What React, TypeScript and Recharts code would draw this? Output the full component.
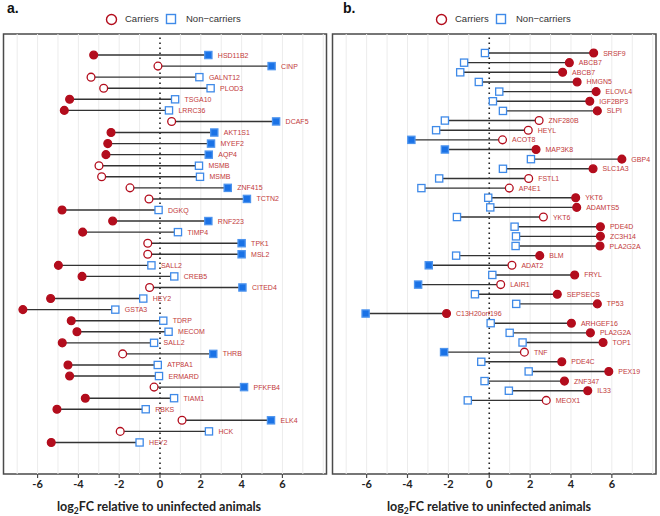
import React from 'react';
import { ScatterChart, Scatter, XAxis, YAxis, ReferenceLine, ReferenceArea } from 'recharts';

// ---------- Panel a ----------
const aGenes = ['HSD11B2','CINP','GALNT12','PLOD3','TSGA10','LRRC36','DCAF5','AKT1S1','MYEF2','AQP4','MSMB','MSMB','ZNF415','TCTN2','DGKQ','RNF223','TIMP4','TPK1','MSL2','SALL2','CREB5','CITED4','HEY2','GSTA3','TDRP','MECOM','SALL2','THRB','ATP8A1','ERMARD','PFKFB4','TIAM1','RBKS','ELK4','HCK','HEY2'];
const aCarriers = [-3.25,-0.1,-3.38,-2.76,-4.43,-4.69,0.57,-2.4,-2.56,-2.65,-2.99,-2.86,-1.47,-0.54,-4.8,-2.32,-3.79,-0.6,-0.6,-4.98,-3.82,-0.51,-5.36,-6.72,-4.35,-4.07,-4.79,-1.83,-4.51,-4.43,-0.29,-3.66,-5.05,1.08,-1.95,-5.33];
const aNonCarriers = [2.37,5.47,1.93,2.48,0.74,0.44,5.69,2.66,2.5,2.39,1.91,1.96,3.32,4.26,-0.07,2.37,0.88,4.0,4.0,-0.42,0.7,4.04,-0.82,-2.19,0.16,0.42,-0.29,2.61,-0.11,-0.05,4.12,0.69,-0.7,5.44,2.4,-1.0];
const aCarrierSig = [1,0,0,0,1,1,0,1,1,1,0,0,0,0,1,1,1,0,0,1,1,0,1,1,1,1,1,0,1,1,0,1,1,0,0,1];
const aNonCarrierSig = [1,1,0,0,0,0,1,1,1,1,0,0,1,1,0,1,0,1,1,0,0,1,0,0,0,0,0,1,0,0,1,0,0,1,0,0];

// ---------- Panel b ----------
const bGenes = ['SRSF9','ABCB7','ABCB7','HMGN5','ELOVL4','IGF2BP3','SLPI','ZNF280B','HEYL','ACOT8','MAP3K8','GBP4','SLC1A3','FSTL1','AP4E1','YKT6','ADAMTS5','YKT6','PDE4D','ZC3H14','PLA2G2A','BLM','ADAT2','FRYL','LAIR1','SEPSECS','TP53','C13H20orf196','ARHGEF16','PLA2G2A','TOP1','TNF','PDE4C','PEX19','ZNF347','IL33','MEOX1'];
const bCarriers = [5.11,3.92,3.59,4.3,5.23,4.92,5.29,2.44,1.91,0.65,2.29,6.49,5.08,1.93,0.98,4.23,4.28,2.65,5.44,5.44,5.42,2.47,1.11,4.18,0.56,3.33,5.29,-2.09,4.02,4.95,5.57,1.72,3.55,5.85,3.68,4.82,2.79];
const bNonCarriers = [-0.21,-1.23,-1.42,-0.51,0.49,0.18,0.67,-2.17,-2.6,-3.81,-2.17,2.04,0.67,-2.45,-3.32,-0.05,0.05,-1.58,1.24,1.31,1.29,-1.62,-2.96,0.15,-3.48,-0.7,1.32,-6.05,0.07,1.0,1.63,-2.21,-0.39,1.93,-0.23,0.96,-1.05];
const bCarrierSig = [1,1,1,1,1,1,1,0,0,0,1,1,1,0,0,1,1,0,1,1,1,1,0,1,0,1,1,1,1,1,1,0,1,1,1,1,0];
const bNonCarrierSig = [0,0,0,0,0,0,0,0,0,1,1,0,0,0,0,0,0,0,0,0,0,0,1,0,1,0,0,1,0,0,0,1,0,0,0,0,0];

const xTicks = [-6, -4, -2, 0, 2, 4, 6];
const gridValues = [-7, -6, -5, -4, -3, -2, -1, 1, 2, 3, 4, 5, 6, 7, 8];
const xDomain: [number, number] = [-7.67, 8.16];

const RED = '#b30d1d';
const LABEL_RED = '#c23a3a';
const BLUE = '#1a72e6';
const BLUE_OPEN = '#3f8ae8';
const BORDER = '#4a4a4a';

type Row = { x: number; y: number; sig: number; gene: string };

const CarrierShape = (p: any) => (
  <circle cx={p.cx} cy={p.cy} r={3.9} fill={p.payload.sig ? RED : '#ffffff'} stroke={RED} strokeWidth={1.3} />
);
const NonCarrierShape = (p: any) => (
  <rect x={p.cx - 3.6} y={p.cy - 3.6} width={7.2} height={7.2}
    fill={p.payload.sig ? BLUE : '#ffffff'} stroke={p.payload.sig ? '#4d94ee' : BLUE_OPEN} strokeWidth={1.3} />
);
const LabelShape = (p: any) => (
  <text x={p.cx + 9.5} y={p.cy} dy="0.36em" fontSize={7} fill={LABEL_RED}
    fontFamily="'Liberation Sans', Arial, sans-serif">{p.payload.gene}</text>
);

function Panel(props: {
  genes: string[]; carriers: number[]; nonCarriers: number[]; cSig: number[]; nSig: number[];
  yDomain: [number, number]; margin: any;
}) {
  const { genes, carriers, nonCarriers, cSig, nSig, yDomain, margin } = props;
  const cData: Row[] = genes.map((g, i) => ({ x: carriers[i], y: i + 1, sig: cSig[i], gene: g }));
  const nData: Row[] = genes.map((g, i) => ({ x: nonCarriers[i], y: i + 1, sig: nSig[i], gene: g }));
  const lData: Row[] = genes.map((g, i) => ({ x: Math.max(carriers[i], nonCarriers[i]), y: i + 1, sig: 0, gene: g }));
  return (
    <ScatterChart width={330} height={516} margin={margin}>
      <XAxis type="number" dataKey="x" domain={xDomain} ticks={xTicks} allowDataOverflow
        axisLine={false} tickLine={{ stroke: BORDER, strokeWidth: 1.2 }} tickSize={4} height={30}
        tick={{ fontSize: 11, fontWeight: 700, fill: '#222', fontFamily: 'Lato, sans-serif' }}
        interval={0} />
      <YAxis type="number" dataKey="y" domain={yDomain} reversed hide width={0} allowDataOverflow />
      {gridValues.map((v) => (
        <ReferenceLine key={'g' + v} x={v} stroke="#ececec" strokeWidth={1} />
      ))}
      <ReferenceLine x={0} stroke="#222" strokeWidth={1.6} strokeDasharray="1.6 3.4" />
      {genes.map((g, i) => (
        <ReferenceLine key={'s' + i} segment={[{ x: carriers[i], y: i + 1 }, { x: nonCarriers[i], y: i + 1 }]}
          stroke="#333" strokeWidth={1.4} ifOverflow="visible" />
      ))}
      <ReferenceArea x1={xDomain[0]} x2={xDomain[1]} y1={yDomain[0]} y2={yDomain[1]}
        fill="none" fillOpacity={0} stroke={BORDER} strokeWidth={1.5} ifOverflow="visible" />
      <Scatter data={lData} shape={LabelShape} isAnimationActive={false} />
      <Scatter data={nData} shape={NonCarrierShape} isAnimationActive={false} />
      <Scatter data={cData} shape={CarrierShape} isAnimationActive={false} />
    </ScatterChart>
  );
}

function Legend({ left }: { left: number }) {
  const font = "'Liberation Sans', Arial, sans-serif";
  return (
    <div style={{ position: 'absolute', left, top: 0, width: 330, height: 30 }}>
      <svg style={{ position: 'absolute', left: 105, top: 13 }} width={13} height={13}>
        <circle cx={6.5} cy={6.5} r={5} fill="#fff" stroke={RED} strokeWidth={1.4} />
      </svg>
      <span style={{ position: 'absolute', left: 125, top: 13, fontFamily: font, fontSize: 9.5, color: '#333', lineHeight: '12px' }}>Carriers</span>
      <svg style={{ position: 'absolute', left: 165, top: 13 }} width={13} height={13}>
        <rect x={1.5} y={1.5} width={9} height={9} fill="#fff" stroke={BLUE_OPEN} strokeWidth={1.4} />
      </svg>
      <span style={{ position: 'absolute', left: 186, top: 13, fontFamily: font, fontSize: 9.5, color: '#333', lineHeight: '12px' }}>Non−carriers</span>
    </div>
  );
}

function Title({ left }: { left: number }) {
  return (
    <div style={{ position: 'absolute', left, top: 499, width: 318, textAlign: 'center', fontFamily: 'Lato, sans-serif', fontWeight: 700, fontSize: 12.5, color: '#222', lineHeight: '16px', whiteSpace: 'nowrap' }}>
      log<span style={{ fontSize: 8.5, position: 'relative', top: 3 }}>2</span>FC relative to uninfected animals
    </div>
  );
}

export default function App() {
  return (
    <div style={{ position: 'absolute', left: 0, top: 0, width: 660, height: 516, background: '#fff', overflow: 'hidden' }}>
      <div style={{ position: 'absolute', left: 0, top: 0 }}>
        <Panel genes={aGenes} carriers={aCarriers} nonCarriers={aNonCarriers} cSig={aCarrierSig} nSig={aNonCarrierSig}
          yDomain={[-0.9, 38.85]} margin={{ top: 34, right: 3.5, bottom: 12, left: 3.5 }} />
      </div>
      <div style={{ position: 'absolute', left: 330, top: 0 }}>
        <Panel genes={bGenes} carriers={bCarriers} nonCarriers={bNonCarriers} cSig={bCarrierSig} nSig={bNonCarrierSig}
          yDomain={[-0.97, 44.63]} margin={{ top: 34, right: 4, bottom: 12, left: 2.5 }} />
      </div>
      <Legend left={0} />
      <Legend left={330} />
      <Title left={0} />
      <Title left={330} />
      <div style={{ position: 'absolute', left: 7, top: 0, fontFamily: "'Liberation Sans', Arial, sans-serif", fontWeight: 700, fontSize: 14, color: '#111', lineHeight: '16px' }}>a.</div>
      <div style={{ position: 'absolute', left: 343, top: 0, fontFamily: "'Liberation Sans', Arial, sans-serif", fontWeight: 700, fontSize: 14, color: '#111', lineHeight: '16px' }}>b.</div>
    </div>
  );
}
